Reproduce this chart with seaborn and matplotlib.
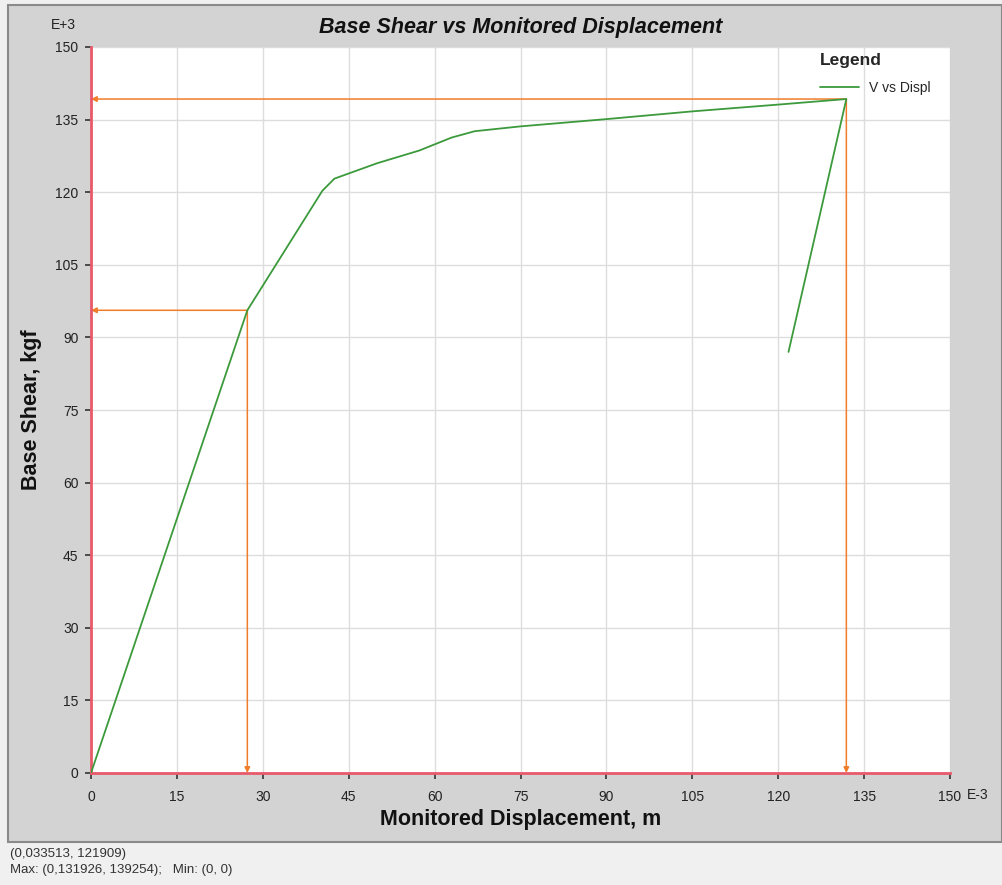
import numpy as np
import pandas as pd
import matplotlib
matplotlib.use('Agg')
import matplotlib.pyplot as plt
import seaborn as sns
from matplotlib.patches import Rectangle

# pushover curve, displacement in E-3 m, shear in E+3 kgf
displ = [0, 27.3, 40.4, 42.5, 50.0, 57.3, 63.0, 67.0, 75.0, 90.0, 105.0, 120.0, 131.9, 121.8]
shear = [0, 95.6, 120.3, 122.8, 126.0, 128.6, 131.3, 132.6, 133.6, 135.1, 136.7, 138.1, 139.25, 87.0]
# points marked by the orange arrows
mark_x = [27.3, 131.9]
mark_y = [95.6, 139.25]
ticks = list(range(0, 151, 15))

sns.set_style('white')
plt.rcParams['font.family'] = ['Liberation Sans', 'DejaVu Sans']

W, H = 1002, 885
fig = plt.figure(figsize=(W / 100, H / 100), dpi=100)
fig.patch.set_facecolor('#f0f0f0')
# gray chart panel
fig.patches.append(Rectangle((8 / W, 1 - 842 / H), 1 - 8 / W, (842 - 5) / H,
                             transform=fig.transFigure, facecolor='#d3d3d3',
                             edgecolor='#8a8a8a', linewidth=1.5, zorder=-10))

ax = fig.add_axes([91 / W, 1 - 773 / H, (950 - 91) / W, (773 - 47) / H])
ax.set_facecolor('white')

df = pd.DataFrame({'displ': displ, 'shear': shear})
sns.lineplot(data=df, x='displ', y='shear', sort=False, estimator=None,
             color='#3c9a3c', linewidth=1.3, label='V vs Displ', ax=ax, zorder=3)

orange = '#f07d2a'
for mx, my in zip(mark_x, mark_y):
    ax.annotate('', xy=(0, my), xytext=(mx, my),
                arrowprops=dict(arrowstyle='-|>', color=orange, lw=1.1, mutation_scale=8,
                                shrinkA=0, shrinkB=0), zorder=2)
    ax.annotate('', xy=(mx, 0), xytext=(mx, my),
                arrowprops=dict(arrowstyle='-|>', color=orange, lw=1.1, mutation_scale=8,
                                shrinkA=0, shrinkB=0), zorder=2)

ax.set_xlim(0, 150)
ax.set_ylim(0, 150)
ax.set_xticks(ticks)
ax.set_yticks(ticks)
ax.grid(True, color='#dddddd', linewidth=1)
ax.tick_params(axis='both', which='both', width=1.2, color='#333333',
               labelsize=10, labelcolor='#222222', direction='out', left=True, bottom=True)
ax.tick_params(axis='x', length=4.5, pad=8)
ax.tick_params(axis='y', length=4, pad=5)
for s in ['top', 'right']:
    ax.spines[s].set_visible(False)
for s in ['left', 'bottom']:
    ax.spines[s].set_color('#e85a6a')
    ax.spines[s].set_linewidth(2)

ax.set_xlabel('Monitored Displacement, m', fontsize=15.5, fontweight='bold', color='#111111')
ax.set_ylabel('Base Shear, kgf', fontsize=15.5, fontweight='bold', color='#111111')
ax.xaxis.set_label_coords(0.5, -(809 - 773) / 726)
ax.yaxis.set_label_coords(-(91 - 42) / 859, 0.5)
ax.set_title('Base Shear vs Monitored Displacement', fontsize=15.5, fontweight='bold',
             style='italic', pad=10, color='#111111')

fig.text(63 / W, 1 - 25 / H, 'E+3', fontsize=10, ha='center', va='center', color='#222222')
fig.text(978 / W, 1 - 795 / H, 'E-3', fontsize=10, ha='center', va='center', color='#222222')

leg = ax.legend(title='Legend', loc='upper left', bbox_to_anchor=((820 - 91) / 859, (773 - 53) / 726),
                frameon=False, fontsize=10, handlelength=2.8, handletextpad=0.7,
                borderpad=0, borderaxespad=0, labelspacing=0.9, alignment='left')
leg.get_title().set_fontweight('bold')
leg.get_title().set_fontsize(12.5)

fig.text(10 / W, 1 - 854 / H, '(0,033513, 121909)', fontsize=9.5, va='center', color='#333333')
fig.text(10 / W, 1 - 870 / H, 'Max: (0,131926, 139254);   Min: (0, 0)', fontsize=9.5,
         va='center', color='#333333')

fig.savefig('out.png', dpi=100, facecolor=fig.get_facecolor())
